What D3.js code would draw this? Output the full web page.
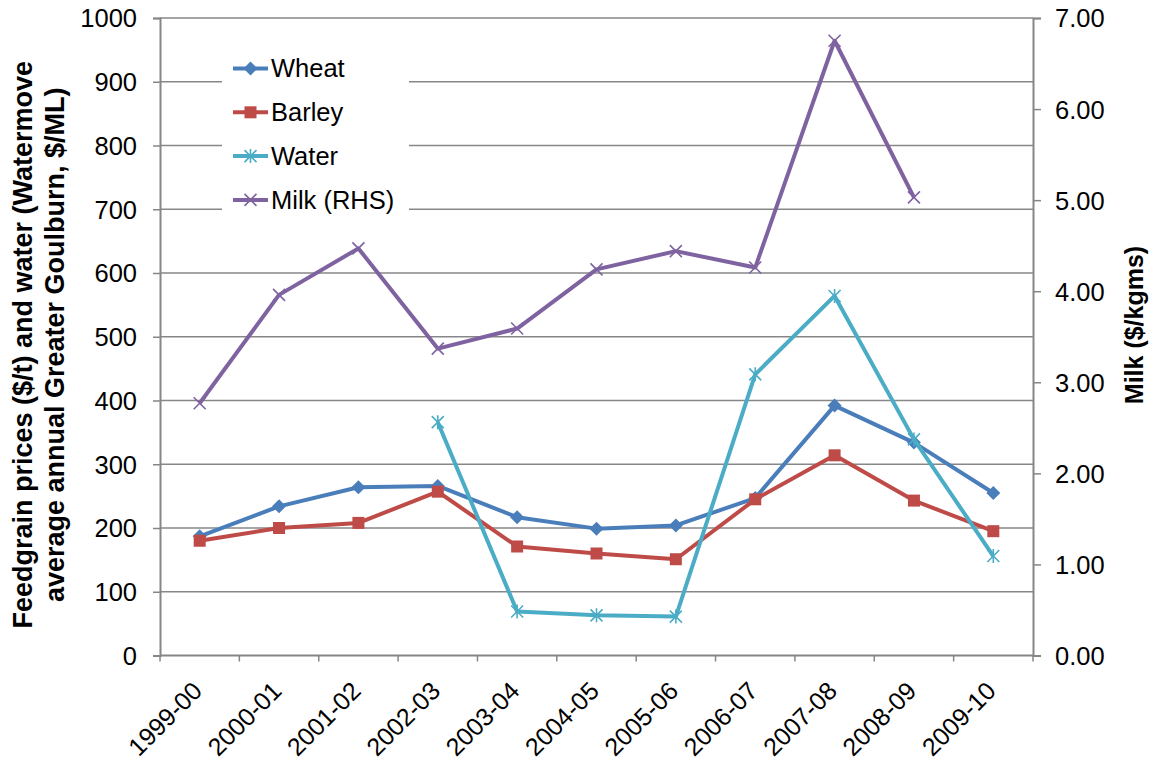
<!DOCTYPE html>
<html><head><meta charset="utf-8">
<script src="https://cdn.jsdelivr.net/npm/d3@7"></script>
<style>body{margin:0;background:#fff}svg{display:block}text{font-family:"Liberation Sans",Arial,sans-serif}</style>
</head><body><svg id="c" width="1153" height="764"></svg>
<script>
const categories = ["1999-00","2000-01","2001-02","2002-03","2003-04","2004-05","2005-06","2006-07","2007-08","2008-09","2009-10"];
const wheat  = [187,234,264,266,217,199,204,247,392,334,255];
const barley = [180,200,208,257,171,160,151,245,314,243,195];
const water  = [null,null,null,366,69,63,61,441,564,339,156];
const milk   = [2.77,3.96,4.47,3.37,3.59,4.24,4.44,4.26,6.75,5.03,null];
const leftTicks = [0,100,200,300,400,500,600,700,800,900,1000];
const rightTicks = [0,1,2,3,4,5,6,7];
const seriesNames = ["Wheat","Barley","Water","Milk (RHS)"];

const svg = d3.select("#c");
const L=160, R=1033, T=18, B=655.5;
const x = d3.scaleBand().domain(categories).range([L,R]);
const y = d3.scaleLinear().domain([0,1000]).range([B,T]);
const y2 = d3.scaleLinear().domain([0,7]).range([B,T]);
const gridC="#878787", axC="#868686";

// gridlines
svg.append("g").selectAll("line").data(leftTicks.filter(d=>d>0)).join("line")
  .attr("x1",L).attr("x2",R).attr("y1",d=>y(d)).attr("y2",d=>y(d))
  .attr("stroke",gridC).attr("stroke-width",1.4);

// left axis
const gl = svg.append("g").attr("transform",`translate(${L},0)`)
  .call(d3.axisLeft(y).tickValues(leftTicks).tickSize(7).tickPadding(16).tickFormat(d3.format("d")));
gl.select(".domain").attr("stroke",axC).attr("stroke-width",2);
gl.selectAll(".tick line").attr("stroke",axC).attr("stroke-width",1.5);
gl.selectAll(".tick text").attr("font-size",25.5).attr("fill","#000").attr("dy","0.35em");

// right axis
const gr = svg.append("g").attr("transform",`translate(${R},0)`)
  .call(d3.axisRight(y2).tickValues(rightTicks).tickSize(8).tickPadding(14).tickFormat(d3.format(".2f")));
gr.select(".domain").attr("stroke",axC).attr("stroke-width",2);
gr.selectAll(".tick line").attr("stroke",axC).attr("stroke-width",1.5);
gr.selectAll(".tick text").attr("font-size",25.5).attr("fill","#000").attr("dy","0.35em");

// bottom axis
const bnd = categories.map(c=>x(c)).concat([R]);
svg.append("line").attr("x1",L).attr("x2",R).attr("y1",B).attr("y2",B).attr("stroke",axC).attr("stroke-width",2);
svg.append("g").selectAll("line").data(bnd).join("line")
  .attr("x1",d=>d).attr("x2",d=>d).attr("y1",B).attr("y2",B+6).attr("stroke",axC).attr("stroke-width",1.5);
svg.append("g").selectAll("text").data(categories).join("text")
  .attr("transform",d=>`translate(${x(d)+x.bandwidth()/2+4},${B+37}) rotate(-45)`)
  .attr("text-anchor","end").attr("font-size",25).attr("fill","#000").text(d=>d);

// axis titles
const lt = svg.append("text").attr("transform",`translate(0,${(T+B)/2+8}) rotate(-90)`)
  .attr("text-anchor","middle").attr("font-size",27).attr("font-weight","bold").attr("fill","#000");
lt.append("tspan").attr("x",0).attr("y",32).text("Feedgrain prices ($/t) and water (Watermove");
lt.append("tspan").attr("x",0).attr("y",64).text("average annual Greater Goulburn, $/ML)");
svg.append("text").attr("transform",`translate(1143,325) rotate(-90)`)
  .attr("text-anchor","middle").attr("font-size",25).attr("font-weight","bold").attr("fill","#000").text("Milk ($/kgms)");

// series
const cx = c=>x(c)+x.bandwidth()/2;
const series = [
  {name:seriesNames[0], vals:wheat, sc:y, color:"#4A7EBB", marker:"diamond"},
  {name:seriesNames[1], vals:barley, sc:y, color:"#BE4B48", marker:"square"},
  {name:seriesNames[2], vals:water, sc:y, color:"#4BACC6", marker:"star"},
  {name:seriesNames[3], vals:milk, sc:y2, color:"#7F63A1", marker:"x"}
];
function drawMarker(g, m, color){
  if(m==="diamond") g.append("path").attr("d","M0,-7L7,0L0,7L-7,0Z").attr("fill",color);
  else if(m==="square") g.append("rect").attr("x",-6).attr("y",-6).attr("width",12).attr("height",12).attr("fill",color);
  else {
    const s=6;
    g.append("path").attr("d",`M${-s},${-s}L${s},${s}M${-s},${s}L${s},${-s}`+(m==="star"?`M0,${-s-1}L0,${s+1}`:""))
      .attr("stroke",color).attr("stroke-width",1.6).attr("fill","none");
  }
}
series.forEach(s=>{
  const data = categories.map((c,i)=>({c,v:s.vals[i]}));
  const line = d3.line().defined(d=>d.v!=null).x(d=>cx(d.c)).y(d=>s.sc(d.v));
  svg.append("path").datum(data).attr("d",line).attr("fill","none").attr("stroke",s.color)
    .attr("stroke-width",4).attr("stroke-linejoin","round");
  data.filter(d=>d.v!=null).forEach(d=>{
    drawMarker(svg.append("g").attr("transform",`translate(${cx(d.c)},${s.sc(d.v)})`), s.marker, s.color);
  });
});

// legend
const lg = svg.append("g");
lg.append("rect").attr("x",222).attr("y",40).attr("width",187).attr("height",186).attr("fill","#fff");
series.forEach((s,i)=>{
  const ly = 68.5 + i*43.8;
  lg.append("line").attr("x1",233).attr("x2",268).attr("y1",ly).attr("y2",ly).attr("stroke",s.color).attr("stroke-width",4);
  drawMarker(lg.append("g").attr("transform",`translate(250.5,${ly})`), s.marker, s.color);
  lg.append("text").attr("x",271).attr("y",ly).attr("dy","0.35em").attr("font-size",25.5).attr("fill","#000").text(s.name);
});
</script></body></html>
